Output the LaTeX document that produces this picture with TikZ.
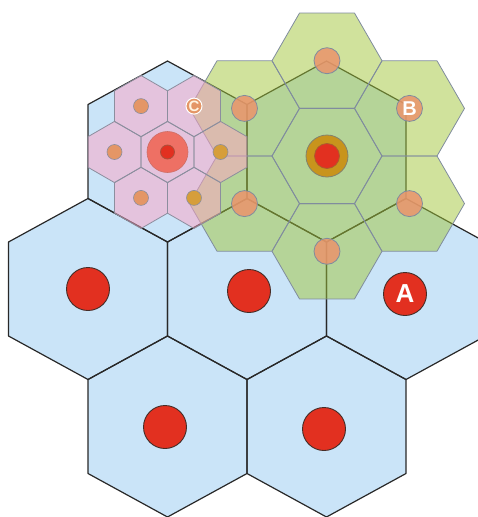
\documentclass[tikz,border=0pt]{standalone}
\usepackage{fontspec}
\newfontfamily\labfont{Liberation Sans}
\definecolor{bluec}{RGB}{202,228,248}
\definecolor{lineblk}{RGB}{40,40,40}
\definecolor{redc}{RGB}{226,48,32}
\definecolor{redline}{RGB}{70,45,40}
\definecolor{greenc}{RGB}{161,197,57}
\definecolor{gline}{RGB}{128,140,158}
\definecolor{pinkc}{RGB}{255,164,196}
\definecolor{pline}{RGB}{140,142,158}
\definecolor{orangec}{RGB}{228,150,102}
\definecolor{olivec}{RGB}{214,158,58}
\definecolor{salmonc}{RGB}{234,148,108}
\definecolor{haloc}{RGB}{238,112,100}
\definecolor{goldc}{RGB}{200,148,28}
\begin{document}
\begin{tikzpicture}[x=1pt,y=-1pt,
  bluefill/.style={fill=bluec},
  blueline/.style={draw=lineblk,line width=1.2pt,line join=round},
  redspot/.style={fill=redc,draw=redline,line width=0.9pt},
  greenline/.style={draw=gline,line width=0.8pt,line join=round},
  pinkline/.style={draw=pline,line width=0.8pt,line join=round},
  smalldot/.style={fill=orangec,draw=pline,line width=0.6pt},
  olivedot/.style={fill=olivec,draw=pline,line width=0.6pt},
  salmondot/.style={fill=salmonc,fill opacity=0.85,draw=gline,line width=0.8pt}]
\useasboundingbox (0,0) rectangle (478,517);
\clip (0,0) rectangle (478,517);
\def\bhex{(0,-90.5) -- (79.5,-47) -- (79.5,47) -- (0,90.5) -- (-79.5,47) -- (-79.5,-47) -- cycle}
\def\ghex{(55,0) -- (27.5,47.63) -- (-27.5,47.63) -- (-55,0) -- (-27.5,-47.63) -- (27.5,-47.63) -- cycle}
\def\phex{(0,-30.6) -- (26.5,-15.3) -- (26.5,15.3) -- (0,30.6) -- (-26.5,15.3) -- (-26.5,-15.3) -- cycle}
% blue cells
\foreach \x/\y in {167.5/151.5,326.5/151.5,88/289,247/289,406/289,167.5/426.5,326.5/426.5}
  \fill[bluefill,shift={(\x,\y)}] \bhex;
\foreach \x/\y in {167.5/151.5,326.5/151.5,88/289,247/289,406/289,167.5/426.5,326.5/426.5}
  \draw[blueline,shift={(\x,\y)}] \bhex;
% red base stations
\foreach \x/\y in {88/289,249/291,165/427,324/429}
  \filldraw[redspot] (\x,\y) circle[radius=21.5pt];
\node[circle,redspot,minimum size=43pt,inner sep=0pt,text=white,
  font=\labfont\bfseries\fontsize{26}{26}\selectfont] (labA) at (405,294) {A};
% green cluster
\begin{scope}[transparency group,opacity=0.5]
\foreach \x/\y in {327/156,327/60.7,409.5/108.4,409.5/203.6,327/251.3,244.5/203.6,244.5/108.4}
  \fill[greenc,shift={(\x,\y)}] \ghex;
\end{scope}
\foreach \x/\y in {327/156,327/60.7,409.5/108.4,409.5/203.6,327/251.3,244.5/203.6,244.5/108.4}
  \draw[greenline,shift={(\x,\y)}] \ghex;
% pink cluster
\begin{scope}[transparency group,opacity=0.5]
\foreach \x/\y in {167.5/152,220.5/152,114.5/152,194/106.1,141/106.1,194/197.9,141/197.9}
  \fill[pinkc,shift={(\x,\y)}] \phex;
\end{scope}
\foreach \x/\y in {167.5/152,220.5/152,114.5/152,194/106.1,141/106.1,194/197.9,141/197.9}
  \draw[pinkline,shift={(\x,\y)}] \phex;
% pink cluster dots
\foreach \x/\y in {114.5/152,141/106.1,141/197.9}
  \filldraw[smalldot] (\x,\y) circle[radius=7.5pt];
\filldraw[olivedot] (220.5,152) circle[radius=7.5pt];
\filldraw[olivedot] (194,197.9) circle[radius=7.5pt];
\node[circle,fill=orangec,draw=white,line width=1pt,minimum size=16pt,inner sep=0pt,
  text={rgb,255:red,255;green,244;blue,225},font=\labfont\bfseries\fontsize{15}{15}\selectfont] (labC) at (194,106.1) {C};
\filldraw[fill=haloc,draw={rgb,255:red,205;green,110;blue,100},line width=0.6pt] (167.5,152) circle[radius=20.5pt];
\filldraw[fill=redc,draw={rgb,255:red,170;green,80;blue,60},line width=0.8pt] (167.5,152) circle[radius=7pt];
% green cluster dots
\foreach \x/\y in {327/60.7,409.5/203.6,327/251.3,244.5/203.6,244.5/108.4}
  \filldraw[salmondot] (\x,\y) circle[radius=13pt];
\node[circle,salmondot,minimum size=26pt,inner sep=0pt,text=white,text opacity=1,
  font=\labfont\bfseries\fontsize{20}{20}\selectfont] (labB) at (409.5,108.4) {B};
\filldraw[fill=goldc,draw={rgb,255:red,130;green,130;blue,110},line width=0.8pt] (327,156) circle[radius=21pt];
\filldraw[fill=redc,draw={rgb,255:red,170;green,95;blue,45},line width=0.8pt] (327,156) circle[radius=12.5pt];
\end{tikzpicture}
\end{document}
